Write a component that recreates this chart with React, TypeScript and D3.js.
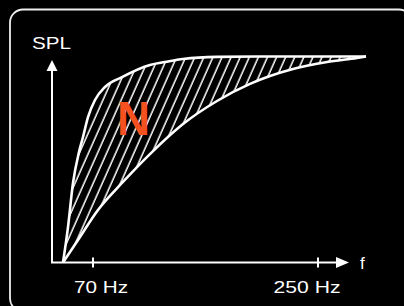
import React, { useEffect } from "react";
import * as d3 from "d3";

// Frequency (Hz) and SPL (relative 0..100)
const upperF = [46, 50, 54, 58.8, 62, 66, 71.6, 79.6, 93.2, 115.6, 127.6, 142, 169.2, 211.6, 288.4];
const upperSPL = [0, 17.2, 38.6, 53.6, 60.9, 70.6, 78.9, 85.2, 90.0, 95.9, 97.3, 98.8, 99.8, 100, 100];
const lowerF = [46, 58, 74, 93.2, 117.2, 142, 169.2, 195.6, 211.6, 230, 257.2, 281.2, 288.4];
const lowerSPL = [0, 10.9, 25.5, 38.6, 53.6, 67.2, 78.4, 86.7, 90.5, 93.9, 97.3, 99.3, 100];
const tickValues = [70, 250];
const tickLabels = ["70 Hz", "250 Hz"];

const W = 404;
const H = 306;

export default function App() {
  useEffect(() => {
    document.body.style.margin = "0";
    document.body.style.background = "#000";
  }, []);

  const x = d3.scaleLinear().domain([70, 250]).range([93, 318]);
  const y = d3.scaleLinear().domain([0, 100]).range([262.5, 56.5]);

  const upper = upperF.map((f, i) => [x(f), y(upperSPL[i])] as [number, number]);
  const lower = lowerF.map((f, i) => [x(f), y(lowerSPL[i])] as [number, number]);

  const line = d3.line<[number, number]>().curve(d3.curveMonotoneX);
  const upperPath = line(upper) || "";
  const lowerPath = line(lower) || "";
  // closed region: upper forward, lower reversed
  const regionPath = upperPath + "L" + line(lower.slice().reverse())!.slice(1) + "Z";

  const x0 = 52;
  const yAxisY = y(0);
  const font = "'Liberation Sans', Arial, Helvetica, sans-serif";

  return (
    <svg width={W} height={H} style={{ display: "block", position: "fixed", left: 0, top: 0, background: "#000" }}>
      <defs>
        <pattern id="hatch" patternUnits="userSpaceOnUse" width={8.3} height={20} patternTransform="rotate(24)">
          <line x1={2} y1={0} x2={2} y2={20} stroke="#fff" strokeWidth={1.5} />
        </pattern>
        <clipPath id="regionClip">
          <path d={regionPath} />
        </clipPath>
      </defs>
      <rect x={0} y={0} width={W} height={H} fill="#000" />
      <rect x={10} y={9.5} width={402} height={302} rx={13} ry={13} fill="none" stroke="#eee" strokeWidth={1.8} />

      {/* hatched area */}
      <path d={regionPath} fill="url(#hatch)" />

      {/* axes */}
      <line x1={x0} y1={yAxisY} x2={x0} y2={68} stroke="#fff" strokeWidth={2} />
      <path d={`M${x0},60 L${x0 - 5.5},71 L${x0 + 5.5},71 Z`} fill="#fff" />
      <line x1={x0 - 1} y1={yAxisY} x2={338} y2={yAxisY} stroke="#fff" strokeWidth={2} />
      <path d={`M349,${yAxisY} L336,${yAxisY - 5.5} L336,${yAxisY + 5.5} Z`} fill="#fff" />
      {tickValues.map((t, i) => (
        <g key={t}>
          <line x1={x(t)} x2={x(t)} y1={yAxisY - 5} y2={yAxisY + 5} stroke="#fff" strokeWidth={2} />
          <text x={x(t) + (i === 0 ? 8 : -11)} y={293} fill="#fff" fontFamily={font} fontSize={17} textAnchor="middle"
            textLength={i === 0 ? 54 : 67} lengthAdjust="spacingAndGlyphs">{tickLabels[i]}</text>
        </g>
      ))}

      {/* curves */}
      <path d={upperPath} fill="none" stroke="#fff" strokeWidth={2.6} />
      <path d={lowerPath} fill="none" stroke="#fff" strokeWidth={2.6} />

      <text x={32} y={48.5} fill="#fff" fontFamily={font} fontSize={17} textLength={39} lengthAdjust="spacingAndGlyphs">SPL</text>
      <text x={360} y={269} fill="#fff" fontFamily={font} fontSize={17}>f</text>
      <text x={117} y={135} fill="#f4511e" fontFamily={font} fontSize={48} fontWeight="bold" textLength={33} lengthAdjust="spacingAndGlyphs">N</text>
    </svg>
  );
}
